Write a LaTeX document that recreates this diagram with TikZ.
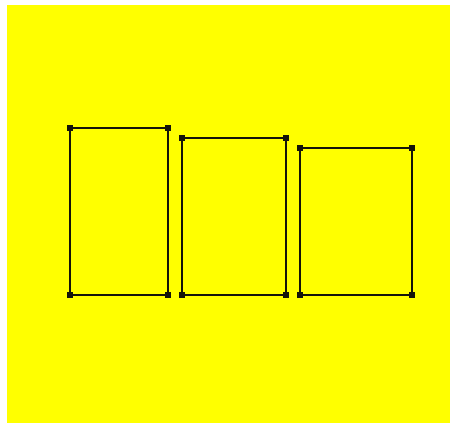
\documentclass[tikz,border=0pt]{standalone}
\definecolor{bgyel}{RGB}{255,255,0}
\definecolor{ink}{RGB}{20,20,10}
\begin{document}
\begin{tikzpicture}[x=1pt,y=-1pt,
  edge/.style={draw=ink,line width=2pt},
  vtx/.style={fill=ink,minimum size=6pt,inner sep=0pt,draw=none,rectangle}]
\useasboundingbox (0,0) rectangle (450,423);
\fill[white] (0,0) rectangle (450,423);
\fill[bgyel] (7,5) rectangle (450,423);
% rect 1
\node[vtx] (a1) at (70,128) {};
\node[vtx] (a2) at (168,128) {};
\node[vtx] (a3) at (168,294.5) {};
\node[vtx] (a4) at (70,294.5) {};
\draw[edge] (a1.center) -- (a2.center) -- (a3.center) -- (a4.center) -- cycle;
% rect 2
\node[vtx] (b1) at (182,138) {};
\node[vtx] (b2) at (286,138) {};
\node[vtx] (b3) at (286,294.5) {};
\node[vtx] (b4) at (182,294.5) {};
\draw[edge] (b1.center) -- (b2.center) -- (b3.center) -- (b4.center) -- cycle;
% rect 3
\node[vtx] (c1) at (300,148) {};
\node[vtx] (c2) at (412,148) {};
\node[vtx] (c3) at (412,294.5) {};
\node[vtx] (c4) at (300,294.5) {};
\draw[edge] (c1.center) -- (c2.center) -- (c3.center) -- (c4.center) -- cycle;
\end{tikzpicture}
\end{document}
